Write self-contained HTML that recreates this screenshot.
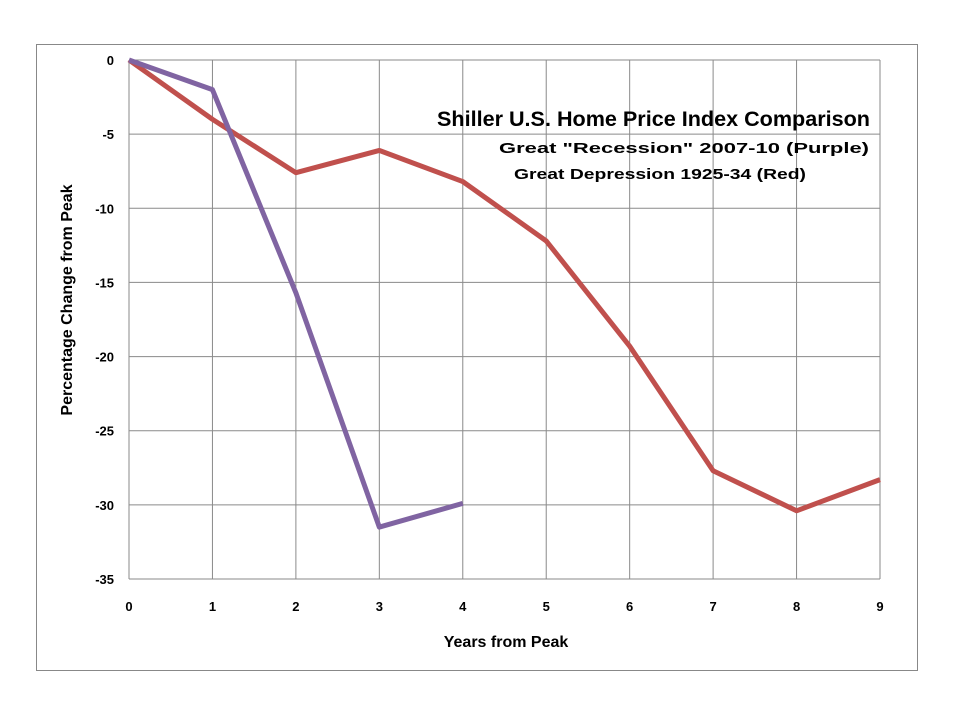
<!DOCTYPE html>
<html><head><meta charset="utf-8"><style>
body{margin:0;background:#fff;}
svg text{font-family:"Liberation Sans",sans-serif;font-weight:bold;fill:#000;}
</style></head><body>
<svg width="960" height="720" xmlns="http://www.w3.org/2000/svg">
<rect x="36.5" y="44.5" width="881" height="626" fill="#fff" stroke="#888" stroke-width="1"/>
<g id="grid"></g>
<g id="series"></g>
<g id="ticks"></g>
<text x="437" y="126" font-size="21" textLength="433" lengthAdjust="spacingAndGlyphs">Shiller U.S. Home Price Index Comparison</text>
<text x="499" y="153" font-size="15" textLength="370" lengthAdjust="spacingAndGlyphs">Great "Recession" 2007-10 (Purple)</text>
<text x="514" y="179" font-size="15" textLength="292" lengthAdjust="spacingAndGlyphs">Great Depression 1925-34 (Red)</text>
<text x="506" y="647" text-anchor="middle" font-size="16">Years from Peak</text>
<text transform="translate(72,300) rotate(-90)" text-anchor="middle" font-size="16">Percentage Change from Peak</text>
</svg>
<script>
const xTicks=[0,1,2,3,4,5,6,7,8,9];
const yTicks=[0,-5,-10,-15,-20,-25,-30,-35];
const redYears=[0,1,2,3,4,5,6,7,8,9];
const redValues=[0,-4,-7.6,-6.1,-8.2,-12.2,-19.3,-27.7,-30.4,-28.3];
const purpleYears=[0,1,2,3,4];
const purpleValues=[0,-2,-15.7,-31.5,-29.9];
const X0=129,X1=880,Y0=60,Y1=579;
function sx(v){return X0+(v-0)/(9-0)*(X1-X0);}
function sy(v){return Y0+(0-v)/(35)*(Y1-Y0);}
const NS="http://www.w3.org/2000/svg";
const grid=document.getElementById('grid'),ticks=document.getElementById('ticks'),series=document.getElementById('series');
function mk(tag,attrs,parent){const e=document.createElementNS(NS,tag);for(const k in attrs)e.setAttribute(k,attrs[k]);parent.appendChild(e);return e;}
xTicks.forEach(t=>{
 const l=mk('line',{x1:sx(t),x2:sx(t),y1:Y0,y2:Y1,stroke:'#8a8a8a','stroke-width':1},grid);
 
 
 const tx=mk('text',{x:sx(t),y:Y1+32,'text-anchor':'middle','font-size':13},ticks);
 tx.textContent=t;
 
 
});
yTicks.forEach(t=>{
 const l=mk('line',{x1:X0,x2:X1,y1:sy(t),y2:sy(t),stroke:'#8a8a8a','stroke-width':1},grid);
 
 
 const tx=mk('text',{x:X0-15,y:sy(t)+5,'text-anchor':'end','font-size':13},ticks);
 tx.textContent=t;
 
 
});
function line(xs,ys,color,name){
 const p=mk('polyline',{points:xs.map((x,i)=>sx(x)+','+sy(ys[i])).join(' '),fill:'none',stroke:color,'stroke-width':5,'stroke-linejoin':'round'},series);
 
 
}
line(redYears,redValues,'#c0504d','series-great-depression');
line(purpleYears,purpleValues,'#8064a2','series-great-recession');
</script>
</body></html>
